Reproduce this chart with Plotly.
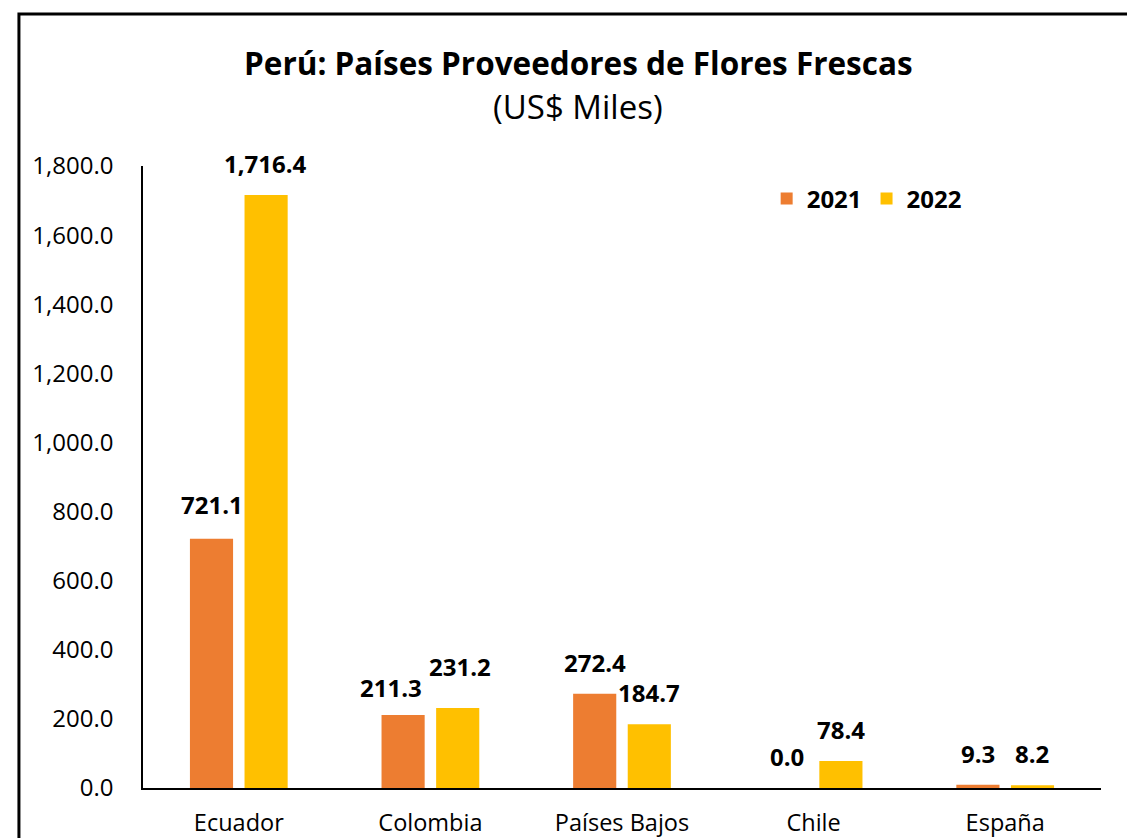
import plotly.graph_objects as go

categories = ["Ecuador", "Colombia", "Países Bajos", "Chile", "España"]
values_2021 = [721.1, 211.3, 272.4, 0.0, 9.3]
values_2022 = [1716.4, 231.2, 184.7, 78.4, 8.2]
series_names = ["2021", "2022"]
colors = ["#ED7D31", "#FFC000"]
tick_vals = [0, 200, 400, 600, 800, 1000, 1200, 1400, 1600, 1800]
# nudges (px) of the 2021 / 2022 data labels, as placed in the original chart
label_dx_2021 = [0, -12, 0, 0, 0]
label_dx_2022 = [0, 3, 0, 0, 0]
label_dy_2021 = [3, -4, 0, 0, 0]
label_dy_2022 = [0, 10, 0, 0, 0]

FONT = "Open Sans"

fig = go.Figure()
for name, vals, col in zip(series_names, [values_2021, values_2022], colors):
    fig.add_trace(go.Bar(x=categories, y=vals, name=name, marker_color=col,
                         marker_line_width=0))

# data labels
for vals, shift, dxs, dys in [(values_2021, -27, label_dx_2021, label_dy_2021),
                              (values_2022, 27, label_dx_2022, label_dy_2022)]:
    for c, v, dx, dy in zip(categories, vals, dxs, dys):
        fig.add_annotation(x=c, y=v, xref="x", yref="y", text=f"{v:,.1f}",
                           showarrow=False, xshift=shift + dx, yshift=13 + dy,
                           yanchor="bottom",
                           font=dict(family=FONT, size=24, color="black", weight="bold"))

# outer border
fig.add_shape(type="rect", xref="paper", yref="paper",
              x0=-0.1295, x1=1.2, y0=-0.3, y1=1.2444,
              line=dict(color="black", width=3), fillcolor="rgba(0,0,0,0)")

fig.add_annotation(text="<b>Perú: Países Proveedores de Flores Frescas</b>",
                   xref="paper", yref="paper", x=0.4545, y=1.167, showarrow=False,
                   xanchor="center", yanchor="middle",
                   font=dict(family=FONT, size=31.5, color="black"))
fig.add_annotation(text="(US$ Miles)",
                   xref="paper", yref="paper", x=0.4545, y=1.095, showarrow=False,
                   xanchor="center", yanchor="middle",
                   font=dict(family=FONT, size=33, color="black"))

fig.update_layout(
    width=1127, height=838,
    margin=dict(l=143, r=26, t=166, b=50),
    plot_bgcolor="white", paper_bgcolor="white",
    barmode="group", bargap=0.43, bargroupgap=0.21,
    showlegend=True,
    legend=dict(orientation="h", x=0.651, y=0.947, xanchor="left", yanchor="middle",
                font=dict(family=FONT, size=24, color="black", weight="bold"),
                bgcolor="rgba(0,0,0,0)", itemwidth=30, tracegroupgap=0),
    font=dict(family=FONT, color="black"),
)
fig.update_yaxes(range=[0, 1800], tickvals=tick_vals, tickformat=",.1f",
                 showgrid=False, zeroline=False, showline=True, linecolor="black",
                 linewidth=1.5, ticks="", ticklabelstandoff=23, automargin=False,
                 tickfont=dict(family=FONT, size=24, color="black"))
fig.update_xaxes(showgrid=False, showline=True, linecolor="black", linewidth=2,
                 ticks="", ticklabelstandoff=13, automargin=False,
                 tickfont=dict(family=FONT, size=23.5, color="black"))

fig.write_html("out.html")
